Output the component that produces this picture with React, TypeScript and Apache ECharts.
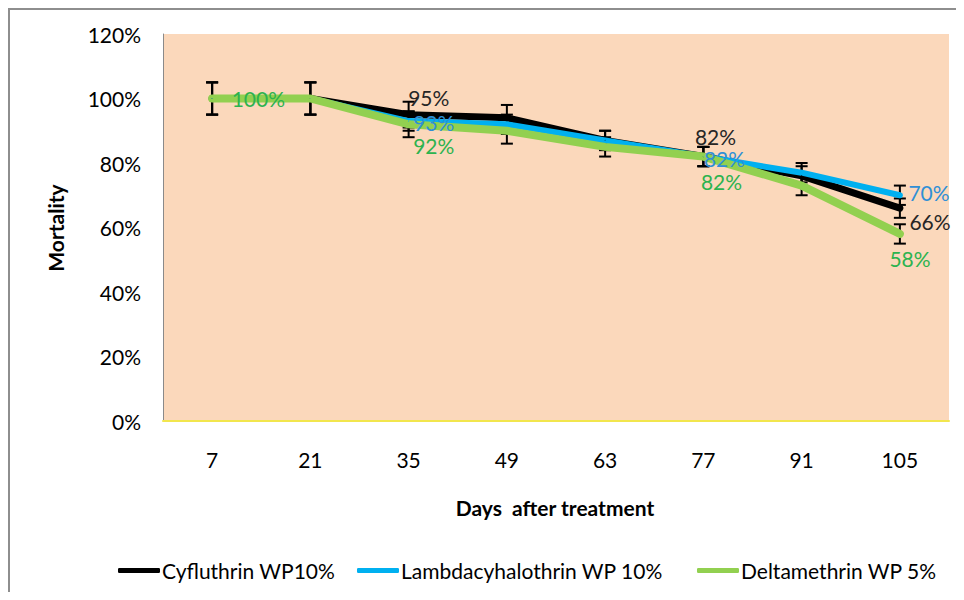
import React, { useEffect, useRef } from "react";
import * as echarts from "echarts";

const days = ["7", "21", "35", "49", "63", "77", "91", "105"];
const cyfluthrin = [100, 100, 95, 94, 87, 82, 76, 66];
const lambdacyhalothrin = [100, 100, 93, 92, 87, 82, 77, 70];
const deltamethrin = [100, 100, 92, 90, 85, 82, 73, 58];
const cyfluthrinErr = [5, 5, 4, 4, 3, 3, 3, 3];
const lambdacyhalothrinErr = [5, 5, 3, 3, 3, 3, 3, 3];
const deltamethrinErr = [5, 5, 4, 4, 3, 3, 3, 3];
const yTicks = [0, 20, 40, 60, 80, 100, 120];
const seriesNames = ["Cyfluthrin WP10%", "Lambdacyhalothrin WP 10%", "Deltamethrin WP 5%"];

// which points show a value label, with offsets [dx, dy]
const cyfLabels: Record<number, [number, number]> = { 2: [0, -17], 5: [-8, -20], 7: [10, 14] };
const lamLabels: Record<number, [number, number]> = { 2: [5, 2], 5: [1, 2], 7: [9, -2] };
const delLabels: Record<number, [number, number]> = { 0: [20, 0], 2: [5, 22], 5: [-2, 25], 7: [-10, 25] };

const FONT = "Lato, 'Noto Sans', sans-serif";

function makeData(values: number[], labels: Record<number, [number, number]>, color: string) {
  return values.map((v, i) => {
    const off = labels[i];
    if (!off) return { value: v };
    return {
      value: v,
      label: {
        show: true,
        position: [off[0], off[1]],
        align: "left",
        verticalAlign: "middle",
        formatter: "{c}%",
        color,
        fontSize: 21,
        fontFamily: FONT,
      },
    };
  });
}

function errSeries(values: number[], errs: number[]) {
  return {
    type: "custom",
    z: 1,
    silent: true,
    data: values.map((v, i) => [i, v, errs[i]]),
    renderItem: (_params: any, api: any) => {
      const x = api.value(0);
      const v = api.value(1);
      const e = api.value(2);
      const top = api.coord([x, v + e]);
      const bot = api.coord([x, v - e]);
      const hw = 6;
      const st = { stroke: "#000", lineWidth: 2 };
      return {
        type: "group",
        children: [
          { type: "line", shape: { x1: top[0], y1: top[1], x2: bot[0], y2: bot[1] }, style: st },
          { type: "line", shape: { x1: top[0] - hw, y1: top[1], x2: top[0] + hw, y2: top[1] }, style: st },
          { type: "line", shape: { x1: bot[0] - hw, y1: bot[1], x2: bot[0] + hw, y2: bot[1] }, style: st },
        ],
      };
    },
  };
}

const legendLefts = [110, 349, 689];

export default function App() {
  const ref = useRef<HTMLDivElement>(null);
  useEffect(() => {
    if (!ref.current) return;
    const chart = echarts.init(ref.current, null, { renderer: "svg" });
    const lineBase = (name: string, color: string, width: number, data: any[]) => ({
      name,
      type: "line",
      z: 2,
      data,
      symbol: "circle",
      symbolSize: 1,
      itemStyle: { color },
      lineStyle: { color, width, cap: "round", join: "round" },
      label: { show: false },
    });
    chart.setOption({
      animation: false,
      backgroundColor: "#ffffff",
      grid: {
        left: 155,
        top: 26,
        width: 786,
        height: 387,
        show: true,
        backgroundColor: "#FBD8BB",
        borderWidth: 0,
      },
      xAxis: {
        type: "category",
        data: days,
        boundaryGap: true,
        axisLine: { show: true, lineStyle: { color: "#F2E64E", width: 2 } },
        axisTick: { show: false },
        axisLabel: { color: "#000", fontSize: 21, fontFamily: FONT, margin: 28 },
        splitLine: { show: false },
      },
      yAxis: {
        type: "value",
        min: yTicks[0],
        max: yTicks[yTicks.length - 1],
        interval: 20,
        axisLine: { show: true, lineStyle: { color: "#8a8a8a", width: 1 } },
        axisTick: { show: false },
        axisLabel: { color: "#000", fontSize: 21, fontFamily: FONT, margin: 22, formatter: "{value}%" },
        splitLine: { show: false },
      },
      legend: seriesNames.map((n, i) => ({
        data: [n],
        left: legendLefts[i],
        top: 552,
        padding: 0,
        itemWidth: 42,
        itemHeight: 5,
        icon: "roundRect",
        textStyle: { color: "#000", fontSize: 21, fontFamily: FONT, padding: [0, 0, 0, -3] },
      })),
      graphic: [
        { type: "line", shape: { x1: 0, y1: 1, x2: 948, y2: 1 }, style: { stroke: "#8e8e8e", lineWidth: 2 } },
        { type: "line", shape: { x1: 1, y1: 0, x2: 1, y2: 584 }, style: { stroke: "#8e8e8e", lineWidth: 2 } },
        {
          type: "text",
          x: 47,
          y: 220,
          rotation: Math.PI / 2,
          style: {
            text: "Mortality",
            fontSize: 21,
            fontWeight: "bold",
            fontFamily: FONT,
            fill: "#000",
            align: "center",
            verticalAlign: "middle",
          },
        },
        {
          type: "text",
          x: 547,
          y: 499,
          style: {
            text: "Days  after treatment",
            fontSize: 21,
            fontWeight: "bold",
            fontFamily: FONT,
            fill: "#000",
            align: "center",
            verticalAlign: "middle",
          },
        },
      ],
      series: [
        errSeries(cyfluthrin, cyfluthrinErr),
        errSeries(lambdacyhalothrin, lambdacyhalothrinErr),
        errSeries(deltamethrin, deltamethrinErr),
        lineBase(seriesNames[0], "#000000", 7, makeData(cyfluthrin, cyfLabels, "#262626")),
        lineBase(seriesNames[1], "#00B0F0", 6, makeData(lambdacyhalothrin, lamLabels, "#2F8FD6")),
        lineBase(seriesNames[2], "#92D050", 8, makeData(deltamethrin, delLabels, "#2DB34F")),
      ],
    });
    return () => chart.dispose();
  }, []);
  return <div ref={ref} style={{ width: 948, height: 584 }} />;
}
